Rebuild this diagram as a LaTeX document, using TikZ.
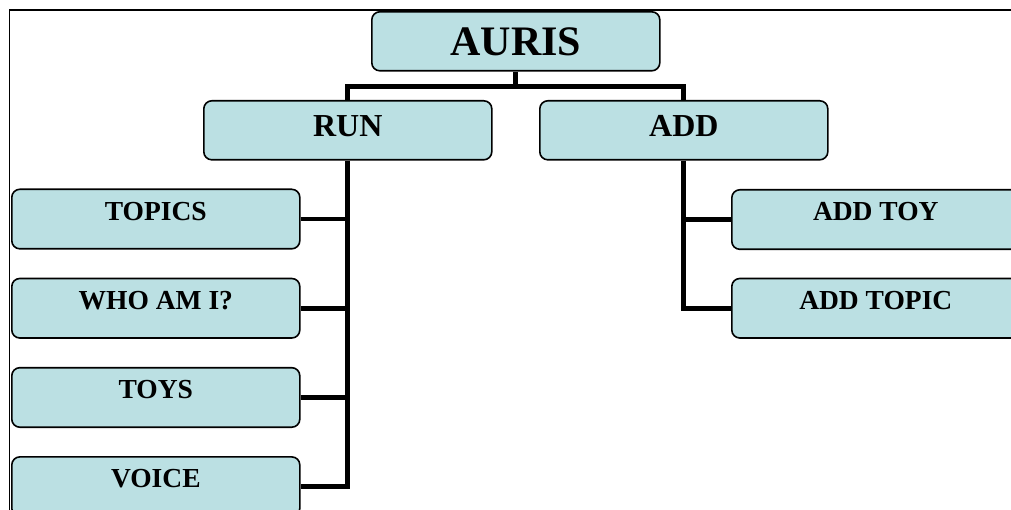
\documentclass[tikz,border=0pt]{standalone}
\usepackage{fontspec}
\setmainfont{Liberation Serif}
\usetikzlibrary{positioning}
\definecolor{boxblue}{RGB}{187,224,227}
\tikzset{
  menubox/.style={draw=black, line width=1.6pt, fill=boxblue, rounded corners=8pt,
    inner sep=0pt, minimum width=288pt, anchor=north west},
  topbox/.style={menubox, font=\bfseries\fontsize{42}{42}\selectfont, text height=44pt, text depth=15pt},
  midbox/.style={menubox, font=\bfseries\fontsize{32}{32}\selectfont, text height=36pt, text depth=23pt},
  leafbox/.style={menubox, font=\bfseries\fontsize{27.5}{27.5}\selectfont, text height=31pt, text depth=28.5pt},
  link/.style={line width=4.8pt, line join=miter},
}

\begin{document}
\begin{tikzpicture}[x=1pt, y=-1pt]
\useasboundingbox (0,0) rectangle (1011,510);
\clip (0,0) rectangle (1011,510);
% the frame
\draw[line width=1.8pt] (1011,10) -- (9.5,10) -- (9.5,515);

% the root and its two branches
\node[topbox] (auris) at (371,11) {AURIS};
\node[midbox] (run) at (203,100) {RUN};
\node[midbox] (add) at (539,100) {ADD};

% the leaves of RUN
\node[leafbox] (topics) at (11,188.5) {TOPICS};
\node[leafbox] (whoami) at (11,277.7) {WHO AM I?};
\node[leafbox] (toys) at (11,366.9) {TOYS};
\node[leafbox] (voice) at (11,456.1) {VOICE};

% the leaves of ADD
\node[leafbox] (addtoy) at (731,189) {ADD TOY};
\node[leafbox] (addtopic) at (731,277.7) {ADD TOPIC};

% connectors
\coordinate[below=15.3pt of auris.south] (fork);
\draw[link] (auris.south) -- (fork);
\draw[link] (run.north) |- (fork) -| (add.north);

\draw[link] (run.south) |- (voice.east);
\draw[link] (topics.east) -- (topics.east -| run.south);
\draw[link] (whoami.east) -- (whoami.east -| run.south);
\draw[link] (toys.east) -- (toys.east -| run.south);

\draw[link] (add.south) |- (addtopic.west);
\draw[link] (addtoy.west) -- (addtoy.west -| add.south);
\end{tikzpicture}
\end{document}
